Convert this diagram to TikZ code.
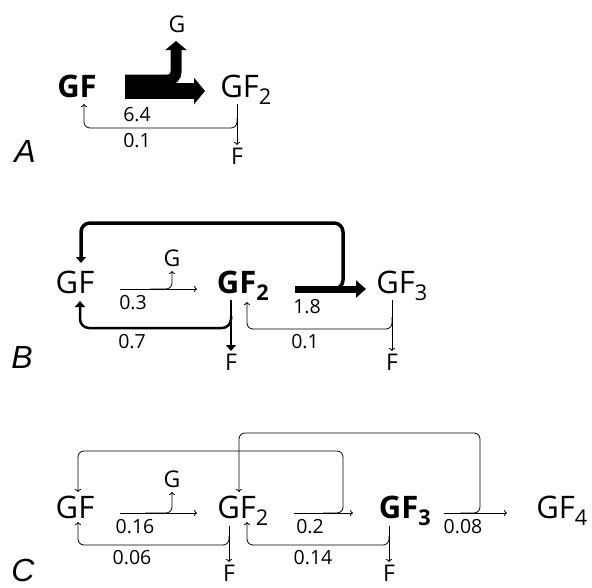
\documentclass[tikz,border=0pt]{standalone}
\usepackage{fontspec}
\setmainfont{Open Sans}
\newfontfamily\panelfont{Liberation Sans}
\usetikzlibrary{arrows.meta,calc}

\begin{document}
\begin{tikzpicture}[x=1pt,y=-1pt,
    every node/.style={anchor=base,inner sep=0pt},
    mol/.style={font=\fontsize{31}{31}\selectfont},
    boldmol/.style={font=\fontsize{31}{31}\selectfont\bfseries},
    prod/.style={font=\fontsize{23}{23}\selectfont},
    rate/.style={font=\fontsize{19.5}{20}\selectfont},
    panel/.style={font=\fontsize{32}{32}\selectfont\panelfont\itshape},
    flow/.style={line width=.8pt,rounded corners=6pt,-{To[length=3pt,width=6pt]}},
    heavy/.style={line width=#1,rounded corners=9pt,-{Triangle[length=6pt,width=10pt]}}]
  \useasboundingbox (0,0) rectangle (592,587);

  % A
  \node[boldmol] (gfA) at (77,97) {GF};
  \node[mol] (gf2A) at (246,97) {GF\textsubscript{2}};
  \node[prod] (gA) at (177,32) {G};
  \node[prod] (fA) at (237,164) {F};
  \node[rate] (kA1) at (137,121) {6.4};
  \node[rate] (kA2) at (137,147) {0.1};
  \node[panel] (panA) at (25,162) {A};
  \draw[line width=16pt,-{Triangle[length=11pt,width=26pt]}] ($(gfA.base)+(48,-6)$) -- ($(gf2A.base)+(-41,-6)$);
  \draw[line width=11pt,rounded corners=8pt,-{Triangle[length=9pt,width=21pt]}] ($(gfA.base)+(48,-17)$) -| ($(gA.base)+(-1,9)$);
  \draw[flow] ($(gf2A.base -| fA.base)+(0,7)$) -- ($(fA.base)+(0,-19)$);
  \draw[flow] ($(gf2A.base -| fA.base)+(0,21)$) |- ($(gfA.base)+(7,31)$) -- ($(gfA.base)+(7,7)$);

  % B
  \node[mol] (gfB) at (75,293) {GF};
  \node[prod] (gB) at (172,266) {G};
  \node[boldmol] (gf2B) at (243,293) {GF\textsubscript{2}};
  \node[mol] (gf3B) at (402,293) {GF\textsubscript{3}};
  \node[prod] (fB1) at (231,370) {F};
  \node[prod] (fB2) at (392,370) {F};
  \node[rate] (kB1) at (133,309) {0.3};
  \node[rate] (kB2) at (307,313) {1.8};
  \node[rate] (kB3) at (132,348) {0.7};
  \node[rate] (kB4) at (305,348) {0.1};
  \node[panel] (panB) at (22,368) {B};
  \draw[flow] ($(gfB.base)+(45,-4)$) -- ($(gf2B.base)+(-46,-4)$);
  \draw[flow] ($(gfB.base)+(75,-4)$) -| ($(gB.base)+(0,5)$);
  \draw[heavy=7pt,-{Triangle[length=10pt,width=17pt]}] ($(gf2B.base)+(52,-4)$) -- ($(gf3B.base)+(-36,-4)$);
  \draw[heavy=3.5pt] ($(gf2B.base)+(77,-4)$) -| ($(gf3B.base)+(-59,-70)$) -| ($(gfB.base)+(6,-30)$);
  \draw[heavy=2.5pt] ($(gf2B.base -| fB1.base)+(0,7)$) -- ($(fB1.base)+(0,-19)$);
  \draw[heavy=2.5pt] ($(gf2B.base -| fB1.base)+(0,23)$) |- ($(gfB.base)+(5,35)$) -- ($(gfB.base)+(5,8)$);
  \draw[flow] ($(gf3B.base -| fB2.base)+(0,7)$) -- ($(fB2.base)+(0,-19)$);
  \draw[flow] ($(gf3B.base -| fB2.base)+(0,24)$) |- ($(gf2B.base)+(4,36)$) -- ($(gf2B.base)+(4,9)$);

  % C
  \node[mol] (gfC) at (75,518) {GF};
  \node[prod] (gC) at (172,487) {G};
  \node[mol] (gf2C) at (243,518) {GF\textsubscript{2}};
  \node[boldmol] (gf3C) at (405,518) {GF\textsubscript{3}};
  \node[mol] (gf4C) at (562,518) {GF\textsubscript{4}};
  \node[prod] (fC1) at (229,581) {F};
  \node[prod] (fC2) at (389,581) {F};
  \node[rate] (kC1) at (135,533) {0.16};
  \node[rate] (kC2) at (310,533) {0.2};
  \node[rate] (kC3) at (463,533) {0.08};
  \node[rate] (kC4) at (132,564) {0.06};
  \node[rate] (kC5) at (313,564) {0.14};
  \node[panel] (panC) at (23,581) {C};
  \draw[flow] ($(gfC.base)+(45,-5)$) -- ($(gf2C.base)+(-46,-5)$);
  \draw[flow] ($(gfC.base)+(70,-5)$) -| ($(gC.base)+(0,5)$);
  \draw[flow] ($(gf2C.base)+(51,-5)$) -- ($(gf3C.base)+(-52,-5)$);
  \draw[flow] ($(gf2C.base)+(80,-5)$) -| ($(gf3C.base)+(-62,-67)$) -| ($(gfC.base)+(3,-26)$);
  \draw[flow] ($(gf3C.base)+(39,-5)$) -- ($(gf4C.base)+(-55,-5)$);
  \draw[flow] ($(gf3C.base)+(55,-5)$) -| ($(gf3C.base)+(75,-85)$) -| ($(gf2C.base)+(-4,-26)$);
  \draw[flow] ($(gf2C.base -| fC1.base)+(0,8)$) -- ($(fC1.base)+(0,-19)$);
  \draw[flow] ($(gf2C.base -| fC1.base)+(0,18)$) |- ($(gfC.base)+(3,27)$) -- ($(gfC.base)+(3,4)$);
  \draw[flow] ($(gf3C.base -| fC2.base)+(0,8)$) -- ($(fC2.base)+(0,-19)$);
  \draw[flow] ($(gf3C.base -| fC2.base)+(0,18)$) |- ($(gf2C.base)+(4,27)$) -- ($(gf2C.base)+(4,4)$);
\end{tikzpicture}
\end{document}
